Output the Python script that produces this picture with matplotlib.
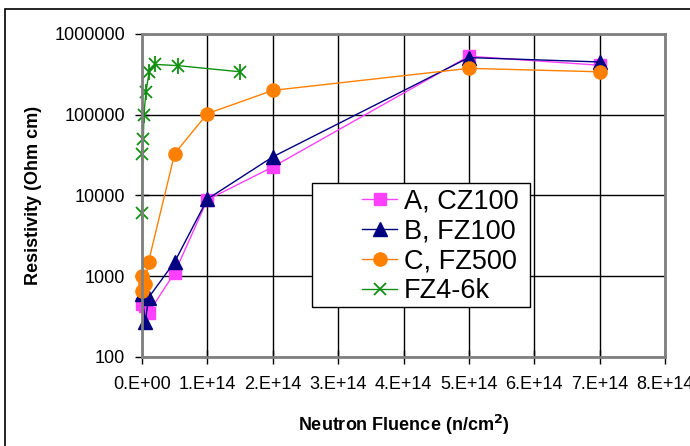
import matplotlib
matplotlib.use("Agg")
import matplotlib.pyplot as plt
from matplotlib.patches import Rectangle
from matplotlib.ticker import FixedLocator, FixedFormatter

plt.rcParams["font.family"] = ["Liberation Sans", "DejaVu Sans"]

# Donnees (fluence n/cm2, resistivite Ohm cm)
a_fluence = [0, 5e12, 1e13, 5e13, 1e14, 2e14, 5e14, 7e14]
a_rho = [450, 430, 350, 1100, 8800, 22500, 530000, 410000]

b_fluence = [0, 5e12, 1e13, 5e13, 1e14, 2e14, 5e14, 7e14]
b_rho = [600, 270, 540, 1500, 9000, 30000, 510000, 450000]

c_fluence = [0, 0, 4e12, 1e13, 5e13, 1e14, 2e14, 5e14, 7e14]
c_rho = [660, 1000, 800, 1500, 33000, 103000, 200000, 375000, 340000]

d_fluence = [1e11, 1e11, 2e12, 3e12, 6e12, 1.1e13, 2e13, 5.5e13, 1.5e14]
d_rho = [6000, 33000, 50000, 100000, 190000, 340000, 420000, 405000, 340000]

x_ticks = [i * 1e14 for i in range(9)]
x_labels = ["0.E+00", "1.E+14", "2.E+14", "3.E+14", "4.E+14",
            "5.E+14", "6.E+14", "7.E+14", "8.E+14"]
y_ticks = [100, 1000, 10000, 100000, 1000000]
y_labels = ["100", "1000", "10000", "100000", "1000000"]

fig = plt.figure(figsize=(6.9, 4.46), dpi=100)
ax = fig.add_axes([0.2058, 0.2002, 0.9638 - 0.2058, 0.9238 - 0.2002])

# cadre exterieur du graphique
fig.patches.append(Rectangle((5 / 690, -0.1), 1.2, 1 - 9 / 446 + 0.1,
                             transform=fig.transFigure, fill=False,
                             edgecolor="black", linewidth=1.2))

ax.plot(a_fluence, a_rho, color="#FF40FF", marker="s", markersize=8.5,
        linewidth=1, label="A, CZ100", clip_on=False)
ax.plot(b_fluence, b_rho, color="#000080", marker="^", markersize=9.5,
        linewidth=1, label="B, FZ100", clip_on=False)
ax.plot(c_fluence, c_rho, color="#FF8000", marker="o", markersize=9.5,
        linewidth=1, label="C, FZ500", clip_on=False)
ax.plot(d_fluence, d_rho, color="#109010", marker="x", markersize=9,
        markeredgewidth=1.3, linewidth=1, label="FZ4-6k", clip_on=False)

# asterisque vert : ajouter la barre verticale
ax.plot(d_fluence, d_rho, color="#109010", marker="|", markersize=11,
        markeredgewidth=1.3, linestyle="none", clip_on=False)

ax.set_yscale("log")
ax.set_xlim(0, 8e14)
ax.set_ylim(100, 1e6)
ax.xaxis.set_major_locator(FixedLocator(x_ticks))
ax.xaxis.set_major_formatter(FixedFormatter(x_labels))
ax.yaxis.set_major_locator(FixedLocator(y_ticks))
ax.yaxis.set_minor_locator(FixedLocator([]))
ax.yaxis.set_major_formatter(FixedFormatter(y_labels))
ax.tick_params(axis="both", which="major", direction="inout", length=10,
               width=1, labelsize=13, color="black")
ax.tick_params(axis="x", pad=9)
ax.tick_params(axis="y", pad=7)

ax.grid(True, which="major", color="black", linewidth=1)
ax.set_axisbelow(True)
for side in ax.spines.values():
    side.set_color("#808080")
    side.set_linewidth(2)

ax.set_xlabel("Neutron Fluence (n/cm$^{\\mathbf{2}}$)", fontsize=13,
              fontweight="bold", labelpad=14)
ax.set_ylabel("Resistivity (Ohm cm)", fontsize=13, fontweight="bold",
              labelpad=9)

# boite de legende dessinee a part (marge gauche large comme l'original)
ax.add_patch(Rectangle((0.325, 0.155), 0.742 - 0.325, 0.539 - 0.155,
                       transform=ax.transAxes, facecolor="white",
                       edgecolor="black", linewidth=1, zorder=4))
leg = ax.legend(loc="upper left", bbox_to_anchor=(0.421, 0.52),
                fontsize=19.5, frameon=False, handlelength=1.3,
                borderpad=0, labelspacing=0.14, handletextpad=0.25,
                borderaxespad=0)
leg.set_zorder(5)

fig.savefig("out.png", dpi=100)
